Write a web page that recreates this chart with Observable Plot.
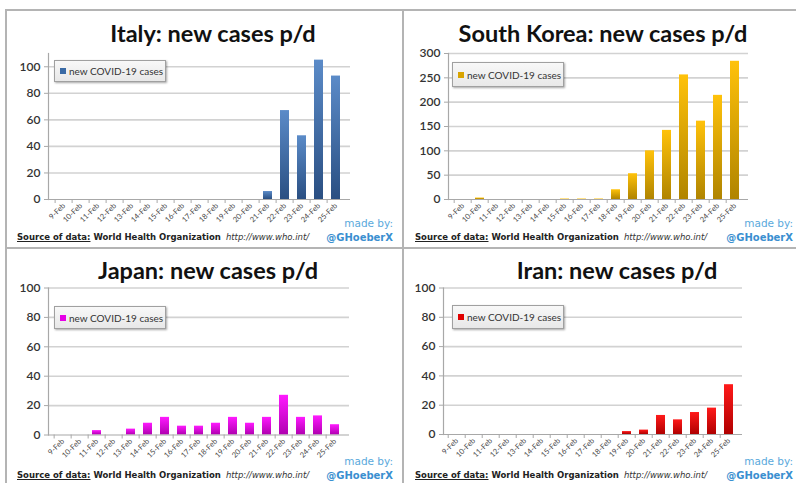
<!DOCTYPE html>
<html><head><meta charset="utf-8">
<script src="https://cdn.jsdelivr.net/npm/d3@7"></script>
<script src="https://cdn.jsdelivr.net/npm/@observablehq/plot@0.6"></script>
<style>
body{margin:0;background:#fff;}
#wrap{position:relative;width:796px;height:483px;overflow:hidden;font-family:Lato,sans-serif;}
.line{position:absolute;background:#b4b4b4;}
.title{position:absolute;font-weight:700;font-size:23.5px;color:#111;white-space:nowrap;transform:translate(-50%,-50%);}
.legend{position:absolute;background:linear-gradient(#f8f8f8,#e8e8e8);border:1px solid #a0a0a0;box-shadow:1px 1px 2px rgba(0,0,0,0.35);font-size:10px;color:#333;display:flex;align-items:center;box-sizing:border-box;padding-left:5px;white-space:nowrap;}
.legend i{display:inline-block;flex:0 0 6px;width:6px;height:6px;margin-right:3px;}
.src{position:absolute;font-family:"DejaVu Sans";font-size:8.5px;font-weight:bold;color:#222;white-space:nowrap;transform:translateY(-50%);}
.src u{text-decoration:underline;}
.src em{font-weight:normal;font-style:italic;color:#333;margin-left:5px;}
.made{position:absolute;font-family:"DejaVu Sans";font-size:10.5px;color:#5aa9dc;white-space:nowrap;transform:translate(-100%,-50%);}
.handle{position:absolute;font-family:"DejaVu Sans";font-size:10px;font-weight:bold;color:#3a8fd0;white-space:nowrap;transform:translate(-100%,-50%);}
svg{position:absolute;}
</style>
</head><body>
<div id="wrap"></div>
<script>
const dates = ["9-Feb","10-Feb","11-Feb","12-Feb","13-Feb","14-Feb","15-Feb","16-Feb","17-Feb","18-Feb","19-Feb","20-Feb","21-Feb","22-Feb","23-Feb","24-Feb","25-Feb"];
const italyCases = [0,0,0,0,0,0,0,0,0,0,0,0,6,67,48,105,93];
const koreaCases = [0,3,0,0,0,0,1,1,1,20,53,100,142,256,161,214,284];
const japanCases = [0,0,3,0,4,8,12,6,6,8,12,8,12,27,12,13,7];
const iranCases  = [0,0,0,0,0,0,0,0,0,0,2,3,13,10,15,18,34];
const ticks100 = [0,20,40,60,80,100];
const ticks300 = [0,50,100,150,200,250,300];
const seriesLabel = "new COVID-19 cases";
const sourceLabel = "Source of data:";
const sourceOrg = "World Health Organization";
const sourceUrl = "http://www.who.int/";
const madeBy = "made by:";
const handle = "@GHoeberX";

const panels = [
  {title:"Italy: new cases p/d", values:italyCases, yDomain:[0,110], yTicks:ticks100, grid:[20,40,60,80,100],
   top:"#5b8bc8", bottom:"#2a4f82", marker:"#3a6aa5",
   svg:{left:0, top:45, width:403, height:180, ml:48, mr:53, mt:8, mb:26},
   titleXY:[213,33], legend:[54,60,112,22], srcXY:[17,237], madeXY:[393,223], handleXY:[393,237]},
  {title:"South Korea: new cases p/d", values:koreaCases, yDomain:[0,300], yTicks:ticks300, grid:[50,100,150,200,250,300],
   top:"#ffc20a", bottom:"#b08400", marker:"#d9a400",
   svg:{left:400, top:45, width:396, height:180, ml:48, mr:48, mt:8, mb:26},
   titleXY:[603,33], legend:[452,62,112,25], srcXY:[415,237], madeXY:[793,223], handleXY:[793,237]},
  {title:"Japan: new cases p/d", values:japanCases, yDomain:[0,100], yTicks:ticks100, grid:[20,40,60,80,100],
   top:"#ff1aff", bottom:"#b000b0", marker:"#e600e6",
   svg:{left:0, top:278, width:403, height:182, ml:48, mr:54, mt:9.5, mb:25.5},
   titleXY:[208,270], legend:[54,306,112,23], srcXY:[17,475], madeXY:[393,461], handleXY:[393,475]},
  {title:"Iran: new cases p/d", values:iranCases, yDomain:[0,100], yTicks:ticks100, grid:[20,40,60,80,100],
   top:"#ff1a1a", bottom:"#b00000", marker:"#e00000",
   svg:{left:400, top:278, width:396, height:182, ml:43, mr:54, mt:9.5, mb:26},
   titleXY:[617,270], legend:[452,305,112,24], srcXY:[415,475], madeXY:[793,461], handleXY:[793,475]}
];

const wrap = document.getElementById("wrap");
function addEl(cls, html, x, y, extra){
  const d = document.createElement("div");
  d.className = cls; d.innerHTML = html;
  d.style.left = x + "px"; d.style.top = y + "px";
  if (extra) Object.assign(d.style, extra);
  wrap.appendChild(d); return d;
}

panels.forEach((p, k) => {
  const s = p.svg;
  const rows = dates.map((d, i) => ({date: d, value: p.values[i]}));
  const gid = "grad" + k;
  const step = (s.width - s.ml - s.mr) / dates.length;
  const chart = Plot.plot({
    width: s.width, height: s.height,
    marginLeft: s.ml, marginRight: s.mr, marginTop: s.mt, marginBottom: s.mb,
    style: {background: "transparent", fontFamily: "Lato, sans-serif", overflow: "visible"},
    x: {domain: dates, padding: 0.48, label: null},
    y: {domain: p.yDomain, label: null},
    marks: [
      Plot.ruleY(p.grid, {stroke: "#d2d2d2", strokeWidth: 1.6}),
      Plot.barY(rows, {x: "date", y: "value", fill: `url(#${gid})`}),
      Plot.ruleY([0], {stroke: "#a8a8a8", strokeWidth: 1.2}),
      Plot.frame({anchor: "left", stroke: "#a8a8a8", strokeWidth: 1.2}),
      Plot.axisY(p.yTicks, {tickSize: 4, text: null, stroke: "#a8a8a8"}),
      Plot.axisY(p.yTicks, {tickSize: 0, tickPadding: 8, fontSize: 12, fill: "#333", fontWeight: 600}),
      Plot.axisX({tickSize: 4, text: null, dx: -step / 2, stroke: "#a8a8a8"}),
      Plot.axisX({tickSize: 0, tickPadding: 5, tickRotate: -45, fontSize: 7.5, fill: "#444"})
    ]
  });
  const defs = d3.select(chart).insert("defs", ":first-child");
  const lg = defs.append("linearGradient").attr("id", gid).attr("x1", 0).attr("y1", 0).attr("x2", 0).attr("y2", 1);
  lg.append("stop").attr("offset", "0%").attr("stop-color", p.top);
  lg.append("stop").attr("offset", "100%").attr("stop-color", p.bottom);
  chart.style.left = s.left + "px"; chart.style.top = s.top + "px";
  wrap.appendChild(chart);

  addEl("title", p.title, p.titleXY[0], p.titleXY[1]);
  const [lx, ly, lw, lh] = p.legend;
  addEl("legend", `<i style="background:${p.marker}"></i>${seriesLabel}`, lx, ly, {width: lw + "px", height: lh + "px"});
  addEl("src", `<u>${sourceLabel}</u> ${sourceOrg}<em>${sourceUrl}</em>`, p.srcXY[0], p.srcXY[1]);
  addEl("made", madeBy, p.madeXY[0], p.madeXY[1]);
  addEl("handle", handle, p.handleXY[0], p.handleXY[1]);
});

// panel borders
addEl("line", "", 6, 9, {width: "790px", height: "2px"});
addEl("line", "", 5, 9, {width: "2px", height: "474px"});
addEl("line", "", 402, 9, {width: "2px", height: "474px"});
addEl("line", "", 6, 247, {width: "790px", height: "2px"});
</script>
</body></html>
